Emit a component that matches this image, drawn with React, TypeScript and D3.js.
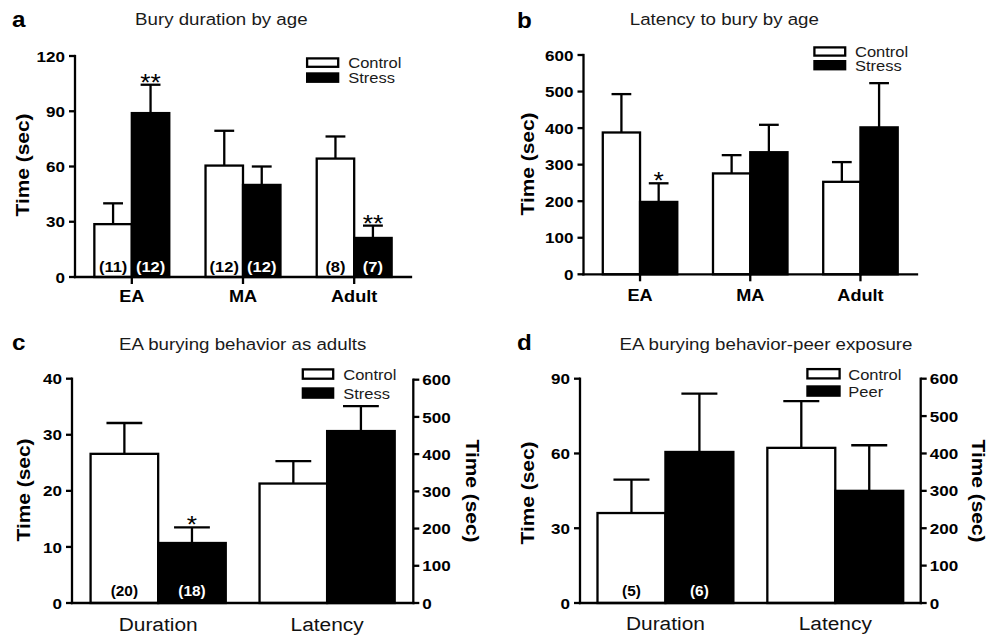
import React from "react";
import * as d3 from "d3";

const SX = 1.1;
const FONT = "'Liberation Sans', Arial, Helvetica, sans-serif";

// ---------- Panel a: Bury duration by age ----------
const ageGroups = ["EA", "MA", "Adult"];
const durControlMean = [28.7, 60.5, 64.3];
const durControlSem = [11.3, 18.9, 12.0];
const durStressMean = [89.0, 50.0, 21.2];
const durStressSem = [15.4, 10.0, 6.7];
const durControlN = ["(11)", "(12)", "(8)"];
const durStressN = ["(12)", "(12)", "(7)"];
const durControlSig = ["", "", ""];
const durStressSig = ["**", "", "**"];
const durTicks = [0, 30, 60, 90, 120];

// ---------- Panel b: Latency to bury by age ----------
const latControlMean = [388, 276, 253];
const latControlSem = [105, 50, 54];
const latStressMean = [198, 334, 402];
const latStressSem = [51, 75, 121];
const latControlSig = ["", "", ""];
const latStressSig = ["*", "", ""];
const latTicks = [0, 100, 200, 300, 400, 500, 600];
const emptyN3 = ["", "", ""];

// ---------- Panel c: EA burying behavior as adults ----------
const measures = ["Duration", "Latency"];
const measureAxis = ["left", "right"];
const adultControlMean = [26.6, 321];
const adultControlSem = [5.5, 60];
const adultStressMean = [10.7, 462];
const adultStressSem = [2.8, 67];
const adultControlN = ["(20)", ""];
const adultStressN = ["(18)", ""];
const adultControlSig = ["", ""];
const adultStressSig = ["*", ""];
const adultLeftTicks = [0, 10, 20, 30, 40];
const rightTicks = [0, 100, 200, 300, 400, 500, 600];

// ---------- Panel d: EA burying behavior-peer exposure ----------
const peerControlMean = [36.1, 415];
const peerControlSem = [13.4, 125];
const peerMean = [60.6, 300];
const peerSem = [23.4, 122];
const peerControlN = ["(5)", ""];
const peerN = ["(6)", ""];
const peerControlSig = ["", ""];
const peerSig = ["", ""];
const peerLeftTicks = [0, 30, 60, 90];

const legendStress = ["Control", "Stress"];
const legendPeer = ["Control", "Peer"];

type TProps = {
  x: number; y: number; size: number; bold?: boolean; anchor?: string;
  rotate?: number; fill?: string; dy?: string; children: React.ReactNode;
};
function T({ x, y, size, bold, anchor = "start", rotate = 0, fill = "#000", dy, children }: TProps) {
  return (
    <text
      transform={`translate(${x},${y}) rotate(${rotate}) scale(${SX},1)`}
      fontFamily={FONT}
      fontSize={size}
      fontWeight={bold ? "bold" : "normal"}
      textAnchor={anchor}
      fill={fill}
      dy={dy}
    >
      {children}
    </text>
  );
}

type Series = { mean: number[]; sem: number[]; n: string[]; sig: string[] };

type PanelProps = {
  categories: string[];
  axisFor: string[];
  series: Series[];
  legend: string[];
  leftTicks: number[];
  rightTicksV?: number[];
  L: any;
};

function Panel({ categories, axisFor, series, legend, leftTicks, rightTicksV, L }: PanelProps) {
  const x = d3.scaleBand<string>().domain(categories).range([L.x0, L.x1]).paddingInner(L.pi).paddingOuter(L.po);
  const yL = d3.scaleLinear().domain([0, d3.max(leftTicks) as number]).range([L.y0, L.yTop]);
  const yR = rightTicksV
    ? d3.scaleLinear().domain([0, d3.max(rightTicksV) as number]).range([L.y0, L.yTopR])
    : null;
  const bw = x.bandwidth() / 2;
  const fills = ["#fff", "#000"];
  const nFill = ["#000", "#fff"];
  const sw = 2.3;
  const tickSize = 15.5;

  return (
    <g>
      <T x={L.letterX} y={L.letterY} size={22} bold>{L.letter}</T>
      <T x={L.titleX} y={L.titleY} size={17} anchor="middle" fill="#1a1a1a">{L.title}</T>

      {categories.map((c, i) => {
        const sc = axisFor[i] === "right" && yR ? yR : yL;
        return series.map((s, k) => {
          const bx = (x(c) as number) + k * bw;
          const cx = bx + bw / 2;
          const top = sc(s.mean[i]);
          const errTop = sc(s.mean[i] + s.sem[i]);
          const capW = bw * 0.53;
          return (
            <g key={`${c}-${k}`}>
              <line x1={cx} x2={cx} y1={top} y2={errTop} stroke="#000" strokeWidth={sw} />
              <line x1={cx - capW / 2} x2={cx + capW / 2} y1={errTop} y2={errTop} stroke="#000" strokeWidth={sw} />
              <rect
                x={bx}
                y={top}
                width={bw}
                height={L.y0 - top}
                fill={fills[k]}
                stroke="#000"
                strokeWidth={sw}
              />
              {s.sig[i] ? (
                <T x={cx} y={errTop + 6} size={24} anchor="middle">{s.sig[i]}</T>
              ) : null}
              {s.n[i] ? (
                <T x={cx} y={L.nY} size={L.nSize} bold anchor="middle" fill={nFill[k]}>{s.n[i]}</T>
              ) : null}
            </g>
          );
        });
      })}

      <line x1={L.x0} x2={L.x0} y1={L.y0} y2={L.yTop} stroke="#000" strokeWidth={sw} strokeLinecap="square" />
      {leftTicks.map((t) => (
        <g key={`lt${t}`}>
          <line x1={L.x0 - 6} x2={L.x0} y1={yL(t)} y2={yL(t)} stroke="#000" strokeWidth={sw} />
          <T x={L.x0 - 10} y={yL(t)} size={tickSize} bold anchor="end" dy="0.36em">{t}</T>
        </g>
      ))}

      {yR && rightTicksV ? (
        <g>
          <line x1={L.x1} x2={L.x1} y1={L.y0} y2={L.yTopR} stroke="#000" strokeWidth={sw} strokeLinecap="square" />
          {rightTicksV.map((t) => (
            <g key={`rt${t}`}>
              <line x1={L.x1} x2={L.x1 + 6} y1={yR(t)} y2={yR(t)} stroke="#000" strokeWidth={sw} />
              <T x={L.x1 + 9} y={yR(t)} size={tickSize} bold anchor="start" dy="0.36em">{t}</T>
            </g>
          ))}
          <T x={L.rLabelX} y={L.rLabelY} size={19} bold anchor="middle" rotate={90} dy="0.36em">Time (sec)</T>
        </g>
      ) : null}

      <line x1={L.x0} x2={L.x1} y1={L.y0} y2={L.y0} stroke="#000" strokeWidth={sw} strokeLinecap="square" />
      {categories.map((c) => {
        const cx = (x(c) as number) + x.bandwidth() / 2;
        return (
          <g key={`xc${c}`}>
            {L.xTicks ? <line x1={cx} x2={cx} y1={L.y0} y2={L.y0 + 7} stroke="#000" strokeWidth={sw} /> : null}
            <T x={cx} y={L.catY} size={L.catSize} bold={L.catBold} anchor="middle" fill={L.catBold ? "#000" : "#111"}>{c}</T>
          </g>
        );
      })}

      <T x={L.yLabelX} y={L.yLabelY} size={19} bold anchor="middle" rotate={-90} dy="0.36em">Time (sec)</T>

      <rect x={L.lx + 1.1} y={L.ly1 + 1.1} width={L.lw - 2.2} height={L.lh - 2.2} fill="#fff" stroke="#000" strokeWidth={sw} />
      <rect x={L.lx} y={L.ly2} width={L.lw} height={L.lh} fill="#000" />
      <T x={L.ltx} y={L.ly1 + L.lh + 0.5} size={15} fill="#1a1a1a">{legend[0]}</T>
      <T x={L.ltx} y={L.ly2 + L.lh + 0.5} size={15} fill="#1a1a1a">{legend[1]}</T>
    </g>
  );
}

const layoutA = {
  x0: 75, x1: 411, y0: 277, yTop: 56, pi: 0.326, po: 0.174, xTicks: true,
  catSize: 16.5, catBold: true, catY: 301.5, nY: 272, nSize: 15,
  title: "Bury duration by age", titleX: 221.3, titleY: 25, letter: "a", letterX: 12, letterY: 27,
  yLabelX: 21.7, yLabelY: 165,
  lx: 306, lw: 33.3, ly1: 57.3, ly2: 72.3, lh: 10.6, ltx: 348.3,
};
const layoutB = {
  x0: 583.5, x1: 917, y0: 274.3, yTop: 55, pi: 0.324, po: 0.175, xTicks: true,
  catSize: 16.5, catBold: true, catY: 300.5, nY: 268, nSize: 15,
  title: "Latency to bury by age", titleX: 724.3, titleY: 25, letter: "b", letterX: 517, letterY: 28,
  yLabelX: 527.3, yLabelY: 164,
  lx: 813.3, lw: 33, ly1: 46.3, ly2: 60, lh: 10.4, ltx: 855,
};
const layoutC = {
  x0: 72, x1: 413.3, y0: 603, yTop: 378.7, yTopR: 379.7, pi: 0.2, po: 0.11, xTicks: false,
  catSize: 19, catBold: false, catY: 630.5, nY: 595.5, nSize: 14,
  title: "EA burying behavior as adults", titleX: 242.7, titleY: 350, letter: "c", letterX: 12, letterY: 350,
  yLabelX: 23.3, yLabelY: 490, rLabelX: 473.3, rLabelY: 491,
  lx: 301.7, lw: 32.6, ly1: 368.3, ly2: 387.3, lh: 11.5, ltx: 343.3,
};
const layoutD = {
  x0: 580, x1: 920.7, y0: 603, yTop: 378.7, yTopR: 378.7, pi: 0.2, po: 0.103, xTicks: false,
  catSize: 19, catBold: false, catY: 629.5, nY: 596, nSize: 14,
  title: "EA burying behavior-peer exposure", titleX: 766, titleY: 350, letter: "d", letterX: 517, letterY: 350,
  yLabelX: 527.3, yLabelY: 493, rLabelX: 979, rLabelY: 491,
  lx: 806.3, lw: 34.4, ly1: 368, ly2: 385.3, lh: 11.5, ltx: 848.3,
};

export default function App() {
  return (
    <svg
      width={988}
      height={635}
      viewBox="0 0 988 635"
      style={{ position: "absolute", left: 0, top: 0, background: "#fff" }}
    >
      <rect x={0} y={0} width={988} height={635} fill="#fff" />
      <Panel
        categories={ageGroups}
        axisFor={["left", "left", "left"]}
        series={[
          { mean: durControlMean, sem: durControlSem, n: durControlN, sig: durControlSig },
          { mean: durStressMean, sem: durStressSem, n: durStressN, sig: durStressSig },
        ]}
        legend={legendStress}
        leftTicks={durTicks}
        L={layoutA}
      />
      <Panel
        categories={ageGroups}
        axisFor={["left", "left", "left"]}
        series={[
          { mean: latControlMean, sem: latControlSem, n: emptyN3, sig: latControlSig },
          { mean: latStressMean, sem: latStressSem, n: emptyN3, sig: latStressSig },
        ]}
        legend={legendStress}
        leftTicks={latTicks}
        L={layoutB}
      />
      <Panel
        categories={measures}
        axisFor={measureAxis}
        series={[
          { mean: adultControlMean, sem: adultControlSem, n: adultControlN, sig: adultControlSig },
          { mean: adultStressMean, sem: adultStressSem, n: adultStressN, sig: adultStressSig },
        ]}
        legend={legendStress}
        leftTicks={adultLeftTicks}
        rightTicksV={rightTicks}
        L={layoutC}
      />
      <Panel
        categories={measures}
        axisFor={measureAxis}
        series={[
          { mean: peerControlMean, sem: peerControlSem, n: peerControlN, sig: peerControlSig },
          { mean: peerMean, sem: peerSem, n: peerN, sig: peerSig },
        ]}
        legend={legendPeer}
        leftTicks={peerLeftTicks}
        rightTicksV={rightTicks}
        L={layoutD}
      />
    </svg>
  );
}
